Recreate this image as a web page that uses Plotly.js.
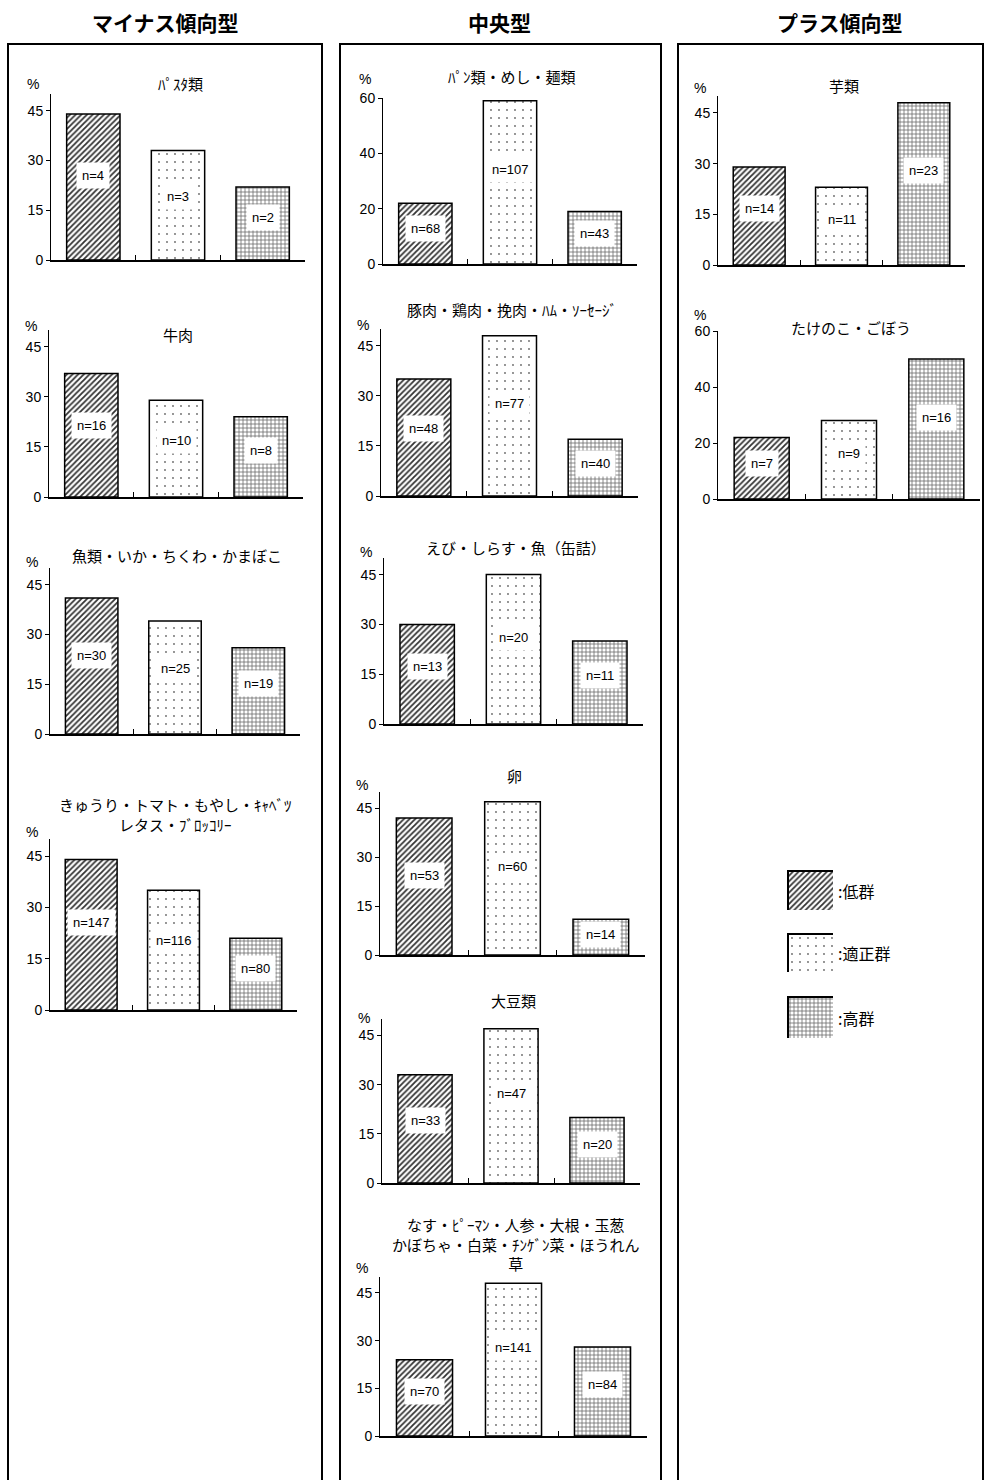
<!DOCTYPE html>
<html><head><meta charset="utf-8">
<script src="https://cdn.plot.ly/plotly-3.0.1.min.js"></script>
<style>html,body{margin:0;padding:0;background:#fff}</style>
</head><body><div id="chart" style="width:985px;height:1480px"></div>
<script>
// ---- data ----
const categories = ["低群", "適正群", "高群"];
const columnTitles = ["マイナス傾向型", "中央型", "プラス傾向型"];
const panelTitles = [
  "ﾊﾟｽﾀ類", "牛肉", "魚類・いか・ちくわ・かまぼこ", "きゅうり・トマト・もやし・ｷｬﾍﾞﾂ<br>レタス・ﾌﾞﾛｯｺﾘｰ",
  "ﾊﾟﾝ類・めし・麺類", "豚肉・鶏肉・挽肉・ﾊﾑ・ｿｰｾｰｼﾞ", "えび・しらす・魚（缶詰）", "卵", "大豆類",
  "なす・ﾋﾟｰﾏﾝ・人参・大根・玉葱<br>かぼちゃ・白菜・ﾁﾝｹﾞﾝ菜・ほうれん<br>草",
  "芋類", "たけのこ・ごぼう"
];
const vPasta = [44, 33, 22],  nPasta = [4, 3, 2];
const vBeef = [37, 29, 24],   nBeef = [16, 10, 8];
const vFish = [41, 34, 26],   nFish = [30, 25, 19];
const vVegA = [44, 35, 21],   nVegA = [147, 116, 80];
const vGrain = [22, 59, 19],  nGrain = [68, 107, 43];
const vMeat = [35, 48, 17],   nMeat = [48, 77, 40];
const vShrimp = [30, 45, 25], nShrimp = [13, 20, 11];
const vEgg = [42, 47, 11],    nEgg = [53, 60, 14];
const vSoy = [33, 47, 20],    nSoy = [33, 47, 20];
const vVegB = [24, 48, 28],   nVegB = [70, 141, 84];
const vPotato = [29, 23, 48], nPotato = [14, 11, 23];
const vRoot = [22, 28, 50],   nRoot = [7, 9, 16];
const ticks45 = [0, 15, 30, 45];
const ticks60 = [0, 20, 40, 60];
const legendLabels = ":低群|:適正群|:高群".split("|");

const panelValues = [vPasta, vBeef, vFish, vVegA, vGrain, vMeat, vShrimp, vEgg, vSoy, vVegB, vPotato, vRoot];
const panelN = [nPasta, nBeef, nFish, nVegA, nGrain, nMeat, nShrimp, nEgg, nSoy, nVegB, nPotato, nRoot];
const panelTicks = [ticks45, ticks45, ticks45, ticks45, ticks60, ticks45, ticks45, ticks45, ticks45, ticks45, ticks45, ticks60];

// ---- layout geometry (pixels) ----
const W = 985, H = 1480;
const geo = [
  // x0, x1, yZero, yTop, rangeMax, titleY, pctY
  [51, 305, 260, 94, 50, 83, 84],
  [49, 303, 497, 330, 50, 334, 326],
  [50, 300, 734, 568, 50, 555, 562],
  [50, 297, 1010, 839, 50, 814, 832],
  [383, 637, 264, 98, 60, 77, 79],
  [381, 638, 496, 329, 50, 310, 325],
  [384, 643, 724, 558, 50, 547, 552],
  [380, 645, 955, 792, 50, 775, 785],
  [382, 640, 1183, 1019, 50, 1000, 1018],
  [380, 647, 1436, 1277, 50, 1244, 1268],
  [718, 965, 265, 96, 50, 85, 88],
  [718, 980, 499, 331, 60, 327, 315]
];
const px = x => x / W, py = y => 1 - y / H;
const FONT = "Liberation Sans, Arial, Noto Sans CJK JP, sans-serif";
const JFONT = "Noto Sans CJK JP, sans-serif";

const patShape = ["/", ".", "+"];
const patFg = ["#333", "#666", "#666"];
const patSize = [4, 8, 4];
const patSol = [0.45, 0.04, 0.35];

const data = [];
const layout = {
  width: W, height: H, margin: {l: 0, r: 0, t: 0, b: 0},
  paper_bgcolor: "#fff", plot_bgcolor: "rgba(0,0,0,0)",
  showlegend: false, bargap: 0.37,
  annotations: [], shapes: []
};

geo.forEach((g, i) => {
  const k = i + 1;
  const xa = "x" + k, ya = "y" + k;
  const [x0, x1, yZ, yT, rmax, tY, pY] = g;
  data.push({
    type: "bar", x: categories, y: panelValues[i], xaxis: xa, yaxis: ya,
    marker: {
      color: "#fff",
      line: {color: "#000", width: 1.5},
      pattern: {shape: patShape, fgcolor: patFg, bgcolor: "#fff", size: patSize, solidity: patSol, fillmode: "replace"}
    },
    hoverinfo: "skip"
  });
  layout["xaxis" + k] = {
    domain: [px(x0), px(x1)], anchor: ya, type: "category", range: [-0.5, 2.5],
    showline: true, linecolor: "#000", linewidth: 1.5, ticks: "inside", ticklen: 5, tickwidth: 1,
    tickcolor: "#000", tickson: "boundaries", showticklabels: false, showgrid: false, zeroline: false, fixedrange: true
  };
  layout["yaxis" + k] = {
    domain: [py(yZ), py(yT)], anchor: xa, range: [0, rmax],
    showline: true, linecolor: "#000", linewidth: 1, ticks: "outside", ticklen: 4, tickcolor: "#000",
    tickvals: panelTicks[i], ticktext: panelTicks[i].map(String),
    tickfont: {family: FONT, size: 14, color: "#000"},
    showgrid: false, zeroline: false, fixedrange: true
  };
  // panel title
  layout.annotations.push({
    xref: "paper", yref: "paper", x: px((x0 + x1) / 2 + 2), y: py(tY), text: panelTitles[i],
    showarrow: false, xanchor: "center", yanchor: "middle",
    font: {family: JFONT, size: 15, color: "#000"}
  });
  // % label
  layout.annotations.push({
    xref: "paper", yref: "paper", x: px(x0 - 18), y: py(pY), text: "%",
    showarrow: false, xanchor: "center", yanchor: "middle",
    font: {family: FONT, size: 14, color: "#000"}
  });
  // n labels
  categories.forEach((c, j) => {
    layout.annotations.push({
      xref: xa, yref: ya, x: c, y: panelValues[i][j] * 0.58, text: "n=" + panelN[i][j],
      showarrow: false, xanchor: "center", yanchor: "middle", bgcolor: "#fff", borderpad: 5,
      font: {family: FONT, size: 13, color: "#000"}
    });
  });
});

// column frames and titles
const frames = [[8, 322], [340, 661], [678, 983]];
const titleX = [165, 500, 840];
frames.forEach((f, i) => {
  layout.shapes.push({type: "rect", xref: "paper", yref: "paper", x0: px(f[0]), x1: px(f[1]), y0: py(1490), y1: py(44),
    line: {color: "#000", width: 2}, fillcolor: "rgba(0,0,0,0)"});
  layout.annotations.push({xref: "paper", yref: "paper", x: px(titleX[i]), y: py(22), text: "<b>" + columnTitles[i] + "</b>",
    showarrow: false, xanchor: "center", yanchor: "middle", font: {family: JFONT, size: 21, color: "#000"}});
});

// legend swatches
const sw = [[871, 910], [934, 972], [997, 1038]];
sw.forEach((s, j) => {
  const k = 13 + j;
  data.push({
    type: "bar", x: [categories[j]], y: [1], width: [1], xaxis: "x" + k, yaxis: "y" + k,
    marker: {color: "#fff", line: {width: 0},
      pattern: {shape: patShape[j], fgcolor: patFg[j], bgcolor: "#fff", size: patSize[j], solidity: patSol[j], fillmode: "replace"}},
    hoverinfo: "skip"
  });
  layout["xaxis" + k] = {domain: [px(788), px(833)], anchor: "y" + k, type: "category", range: [-0.5, 0.5], visible: false, fixedrange: true};
  layout["yaxis" + k] = {domain: [py(s[1]), py(s[0])], anchor: "x" + k, range: [0, 1], visible: false, fixedrange: true};
  layout.shapes.push({type: "path", xref: "paper", yref: "paper",
    path: `M ${px(788)} ${py(s[1])} L ${px(788)} ${py(s[0])} L ${px(833)} ${py(s[0])}`,
    line: {color: "#000", width: 2}});
  layout.annotations.push({xref: "paper", yref: "paper", x: px(836), y: py((s[0] + s[1]) / 2), text: legendLabels[j],
    showarrow: false, xanchor: "left", yanchor: "middle", font: {family: JFONT, size: 16, color: "#000"}});
});

Plotly.newPlot("chart", data, layout, {staticPlot: true});
</script>
</body></html>
